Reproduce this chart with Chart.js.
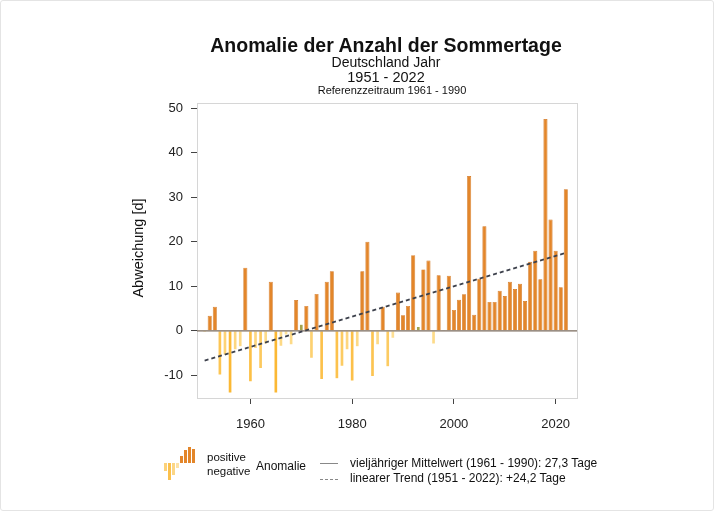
<!DOCTYPE html>
<html>
<head>
<meta charset="utf-8">
<script src="https://cdn.jsdelivr.net/npm/chart.js@4.4.1/dist/chart.umd.min.js"></script>
<style>
  html, body { margin: 0; padding: 0; background: #fff; }
  #wrap { position: relative; width: 714px; height: 511px; font-family: 'Liberation Sans', Arial, Helvetica, sans-serif; color: #111; }
  #wrap canvas { position: absolute; left: 0; top: 0; }
  .txt { position: absolute; white-space: nowrap; line-height: 1; }
  .ctr { transform: translateX(-50%); }
  #frame { position: absolute; left: 0; top: 0; width: 712px; height: 509px; border: 1px solid #e4e4e4; border-radius: 3px; pointer-events: none; }
  .icon { position: absolute; width: 3px; }
</style>
</head>
<body>
<div id="wrap">
  <canvas id="chart" width="714" height="511"></canvas>

  <div class="txt ctr" style="left:386px; top:36px; font-size:19.5px; font-weight:bold;">Anomalie der Anzahl der Sommertage</div>
  <div class="txt ctr" style="left:386px; top:55px; font-size:14px;">Deutschland Jahr</div>
  <div class="txt ctr" style="left:386px; top:70px; font-size:14.5px;">1951 - 2022</div>
  <div class="txt ctr" style="left:392px; top:85px; font-size:11px;">Referenzzeitraum 1961 - 1990</div>

  <div class="txt" style="left:138px; top:248px; font-size:14.5px; transform: translate(-50%, -50%) rotate(-90deg);">Abweichung [d]</div>

  <!-- legend -->
  <div class="icon" style="left:164px; top:463px; height:8px; background:#fcd27a;"></div>
  <div class="icon" style="left:168px; top:463px; height:17px; background:#fbc04c;"></div>
  <div class="icon" style="left:172px; top:463px; height:12px; background:#fcd685;"></div>
  <div class="icon" style="left:176px; top:463px; height:5px; background:#fde2a6;"></div>
  <div class="icon" style="left:180px; top:456px; height:7px; background:#e3862a;"></div>
  <div class="icon" style="left:184px; top:450px; height:13px; background:#e3862a;"></div>
  <div class="icon" style="left:188px; top:447px; height:16px; background:#e3862a;"></div>
  <div class="icon" style="left:192px; top:449px; height:14px; background:#e3862a;"></div>

  <div class="txt" style="left:207px; top:452px; font-size:11.5px;">positive</div>
  <div class="txt" style="left:207px; top:466px; font-size:11.5px;">negative</div>
  <div class="txt" style="left:256px; top:460px; font-size:12px;">Anomalie</div>

  <div style="position:absolute; left:320px; top:463px; width:18px; border-top:1px solid #888;"></div>
  <div style="position:absolute; left:320px; top:479px; width:18px; border-top:1px dashed #888;"></div>
  <div class="txt" style="left:350px; top:457px; font-size:12px;">vieljähriger Mittelwert (1961 - 1990): 27,3 Tage</div>
  <div class="txt" style="left:350px; top:472px; font-size:12px;">linearer Trend (1951 - 2022): +24,2 Tage</div>

  <div id="frame"></div>
</div>

<script>
// years 1951 - 2022
const years = [
  1951, 1952, 1953, 1954, 1955, 1956, 1957, 1958, 1959, 1960,
  1961, 1962, 1963, 1964, 1965, 1966, 1967, 1968, 1969, 1970,
  1971, 1972, 1973, 1974, 1975, 1976, 1977, 1978, 1979, 1980,
  1981, 1982, 1983, 1984, 1985, 1986, 1987, 1988, 1989, 1990,
  1991, 1992, 1993, 1994, 1995, 1996, 1997, 1998, 1999, 2000,
  2001, 2002, 2003, 2004, 2005, 2006, 2007, 2008, 2009, 2010,
  2011, 2012, 2013, 2014, 2015, 2016, 2017, 2018, 2019, 2020,
  2021, 2022
];
// anomaly of summer days vs 1961-1990 (days)
const anomaly = [
  -0.4, 3.4, 5.4, -10.0, -5.5, -14.0, -4.3, -3.6, 14.2, -11.5,
  -4.0, -8.5, -3.0, 11.0, -14.0, -3.5, -1.0, -3.2, 6.9, 1.5,
  5.6, -6.2, 8.3, -11.0, 11.0, 13.4, -10.8, -8.0, -4.3, -11.3,
  -3.6, 13.4, 20.0, -10.3, -3.2, 5.4, -8.1, -1.7, 8.6, 3.5,
  5.6, 17.0, 1.0, 13.8, 15.8, -3.0, 12.5, 0.2, 12.4, 4.7,
  7.0, 8.2, 34.8, 3.6, 11.7, 23.5, 6.5, 6.5, 9.0, 7.8,
  11.0, 9.4, 10.6, 6.7, 15.5, 18.0, 11.6, 47.6, 25.0, 18.0,
  9.8, 31.8
];
const trendYears = [1951, 2022];
const trendValues = [-6.7, 17.5];
const meanYears = [1949.5, 2024.2];
const meanValues = [0, 0];
const yTicks = [-10, 0, 10, 20, 30, 40, 50];
const xTicks = [1960, 1980, 2000, 2020];

const FONT = "'Liberation Sans', Arial, Helvetica, sans-serif";

function barColor(v) {
    if (v >= 0) return v < 2 ? "#a3a24c" : "#e3862a";
    const t = Math.min(1, -v / 14);
    const r = Math.round(254 + (251 - 254) * t);
    const g = Math.round(228 + (184 - 228) * t);
    const b = Math.round(160 + (52 - 160) * t);
    return `rgb(${r},${g},${b})`;
}

const boxPlugin = {
    id: "plotBox",
    beforeDatasetsDraw(chart) {
        const a = chart.chartArea;
        const ctx = chart.ctx;
        ctx.save();
        ctx.strokeStyle = "#d6d6d6";
        ctx.lineWidth = 1;
        ctx.strokeRect(a.left + 0.5, a.top + 0.5, a.right - a.left, a.bottom - a.top);
        ctx.restore();
    }
};

new Chart(document.getElementById("chart"), {
    type: "bar",
    data: {
        datasets: [
            {
                type: "line",
                label: "linearer Trend",
                data: trendYears.map((y, i) => ({ x: y, y: trendValues[i] })),
                borderColor: "#3d414c",
                borderWidth: 1.8,
                borderDash: [4, 3],
                pointRadius: 0,
                order: 0
            },
            {
                type: "line",
                label: "Mittelwert",
                data: meanYears.map((y, i) => ({ x: y, y: meanValues[i] })),
                borderColor: "#7a6b5c",
                borderWidth: 1.2,
                pointRadius: 0,
                order: 1
            },
            {
                type: "bar",
                label: "Anomalie",
                data: years.map((y, i) => ({ x: y, y: anomaly[i] })),
                backgroundColor: ctx => barColor(anomaly[ctx.dataIndex]),
                borderColor: ctx => anomaly[ctx.dataIndex] >= 2 ? "#cf6f16" : "rgba(0,0,0,0)",
                borderWidth: 0.7,
                barPercentage: 0.8,
                categoryPercentage: 1,
                order: 2
            }
        ]
    },
    options: {
        responsive: false,
        animation: false,
        layout: { padding: { left: 0, right: 137, top: 103, bottom: 83 } },
        plugins: { legend: { display: false }, tooltip: { enabled: false } },
        scales: {
            x: {
                type: "linear",
                min: 1949.5,
                max: 2024.2,
                offset: false,
                afterBuildTicks: s => { s.ticks = xTicks.map(v => ({ value: v })); },
                afterFit: s => { s.height = 30; },
                ticks: {
                    color: "#222",
                    font: { family: FONT, size: 13 },
                    padding: 13,
                    maxRotation: 0,
                    autoSkip: false,
                    callback: v => String(v)
                },
                grid: { offset: false, drawOnChartArea: false, tickLength: 6, tickColor: "#444", color: "#444" },
                border: { color: "#d6d6d6" }
            },
            y: {
                min: -15.1,
                max: 51.2,
                afterBuildTicks: s => { s.ticks = yTicks.map(v => ({ value: v })); },
                afterFit: s => { s.width = 197; },
                ticks: {
                    color: "#222",
                    font: { family: FONT, size: 13 },
                    padding: 8,
                    callback: v => String(v)
                },
                grid: { offset: false, drawOnChartArea: false, tickLength: 6, tickColor: "#444", color: "#444" },
                border: { color: "#d6d6d6" }
            }
        }
    },
    plugins: [boxPlugin]
});
</script>
</body>
</html>
